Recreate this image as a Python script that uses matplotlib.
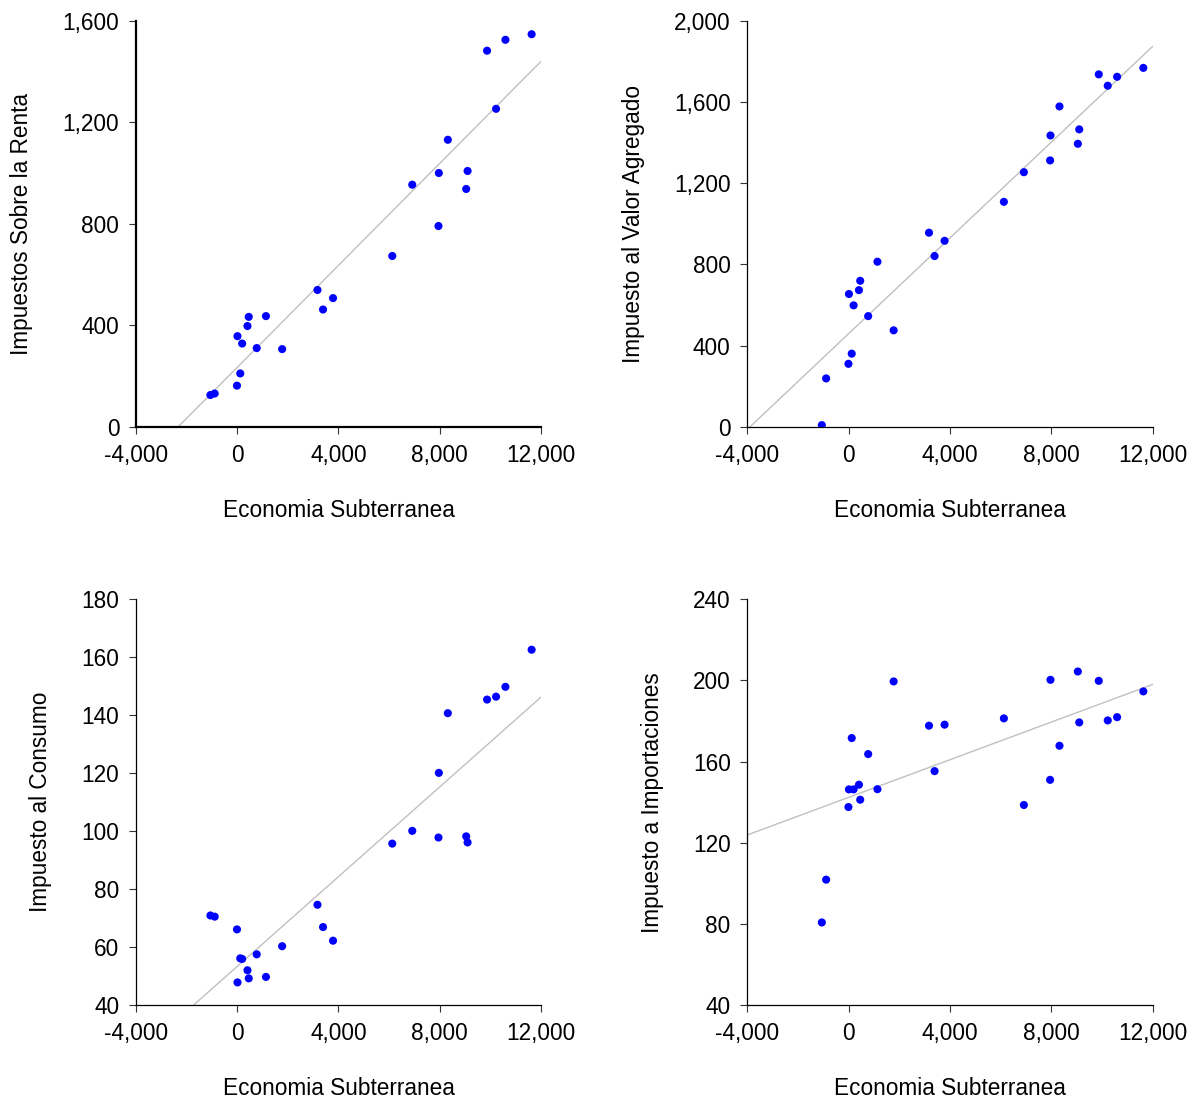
import numpy as np
import matplotlib
matplotlib.use("Agg")
import matplotlib.pyplot as plt
from matplotlib.ticker import FuncFormatter

plt.rcParams["font.family"] = ["Liberation Sans", "DejaVu Sans"]

# Economia subterranea (eje x comun)
economia = [-1060, -890, -10, 10, 120, 195, 405, 455, 770, 1135, 1775, 3170, 3390,
            3785, 6125, 6915, 7950, 7965, 8320, 9045, 9100, 9870, 10225, 10595, 11630]

renta = [125, 131, 162, 357, 210, 328, 397, 433, 310, 436, 306, 539, 462,
         507, 673, 954, 791, 1000, 1131, 937, 1008, 1482, 1253, 1525, 1547]

iva = [8, 238, 310, 654, 360, 598, 673, 719, 545, 813, 475, 956, 841,
       916, 1108, 1254, 1312, 1435, 1578, 1394, 1465, 1736, 1680, 1724, 1768]

consumo = [70.9, 70.5, 66.1, 47.8, 56.1, 55.9, 52.0, 49.2, 57.5, 49.7, 60.3, 74.6, 66.9,
           62.2, 95.7, 100.1, 97.8, 120.1, 140.7, 98.2, 96.1, 145.4, 146.4, 149.8, 162.6]

importaciones = [80.7, 101.8, 137.6, 146.3, 171.6, 146.3, 148.6, 141.2, 163.7, 146.4, 199.5, 177.7, 155.3,
                 178.2, 181.3, 138.6, 151.0, 200.3, 167.8, 204.4, 179.3, 199.8, 180.3, 181.9, 194.6]

x_ticks = [-4000, 0, 4000, 8000, 12000]

paneles = [
    (renta, "Impuestos Sobre la Renta", (0, 1600), [0, 400, 800, 1200, 1600]),
    (iva, "Impuesto al Valor Agregado", (0, 2000), [0, 400, 800, 1200, 1600, 2000]),
    (consumo, "Impuesto al Consumo", (40, 180), [40, 60, 80, 100, 120, 140, 160, 180]),
    (importaciones, "Impuesto a Importaciones", (40, 240), [40, 80, 120, 160, 200, 240]),
]

posiciones = [
    [0.1134, 0.6117, 0.3378, 0.3694],
    [0.6233, 0.6117, 0.3381, 0.3694],
    [0.1134, 0.0855, 0.3378, 0.3692],
    [0.6233, 0.0855, 0.3381, 0.3692],
]

fmt = FuncFormatter(lambda v, p: f"{v:,.0f}")

fig = plt.figure(figsize=(11.99, 10.99), dpi=100)

for i, ((y, etiqueta, ylim, yticks), pos) in enumerate(zip(paneles, posiciones)):
    ax = fig.add_axes(pos)
    x = np.array(economia, dtype=float)
    yv = np.array(y, dtype=float)

    # recta de regresion
    b, a = np.polyfit(x, yv, 1)
    xl = np.array([-4000, 12000])
    ax.plot(xl, a + b * xl, color="#c0c0c0", lw=1.0, zorder=1)

    ax.scatter(x, yv, s=34, color="#0000ff", edgecolors="none", zorder=3)

    ax.set_xlim(-4000, 12000)
    ax.set_ylim(*ylim)
    ax.set_xticks(x_ticks)
    ax.set_yticks(yticks)
    ax.xaxis.set_major_formatter(fmt)
    ax.yaxis.set_major_formatter(fmt)

    for s in ["top", "right"]:
        ax.spines[s].set_visible(False)
    lw = 1.6 if i == 0 else 0.9
    for s in ["left", "bottom"]:
        ax.spines[s].set_linewidth(lw)

    ax.tick_params(axis="both", direction="out", length=5, width=0.8,
                   color="#333333", labelsize=16.3)
    ax.tick_params(axis="y", pad=7)
    ax.tick_params(axis="x", pad=7.5)

    ax.set_xlabel("Economia Subterranea", fontsize=16.3, labelpad=23)
    ax.set_ylabel(etiqueta, fontsize=16.3, labelpad=21)

fig.savefig("out.png", dpi=100)
